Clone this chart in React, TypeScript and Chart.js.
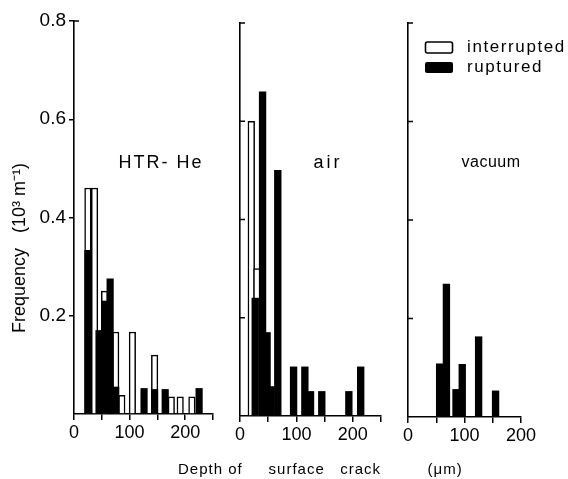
import React, { useEffect, useRef } from 'react';
import { Chart, registerables } from 'chart.js';

Chart.register(...registerables);

// ---------- data (depth of surface crack in µm, frequency in 10^3 m^-1) ----------
const htrInterruptedDepth = [25, 37, 55, 75, 86, 105, 145, 175, 191, 212];
const htrInterruptedFreq = [0.46, 0.46, 0.25, 0.167, 0.038, 0.167, 0.12, 0.035, 0.035, 0.035];
const htrRupturedDepth = [25, 45, 55, 65, 75, 126, 145, 164, 225];
const htrRupturedFreq = [0.333, 0.17, 0.23, 0.275, 0.055, 0.052, 0.05, 0.05, 0.052];

const airInterruptedDepth = [20, 30];
const airInterruptedFreq = [0.6, 0.3];
const airRupturedDepth = [27, 40, 48, 55, 67, 95, 115, 125, 145, 193, 214];
const airRupturedFreq = [0.24, 0.66, 0.17, 0.06, 0.5, 0.1, 0.1, 0.05, 0.05, 0.05, 0.1];

const vacInterruptedDepth: number[] = [];
const vacInterruptedFreq: number[] = [];
const vacRupturedDepth = [56, 68, 85, 96, 125, 155];
const vacRupturedFreq = [0.108, 0.27, 0.056, 0.107, 0.163, 0.053];

const yTickValues = [0, 0.2, 0.4, 0.6, 0.8];
const xTickStep = 50;
const seriesNames = ['interrupted', 'ruptured'];
const panelNames = ['HTR- He', 'air', 'vacuum'];
const xTitle = 'Depth of     surface   crack         (\u03bcm)';
const yTitle = 'Frequency   (10\u00b3 m\u207b\u00b9)';

// ---------- styling ----------
const W = 568;
const H = 479;
const FONT = "'Liberation Sans', Arial, sans-serif";

type Txt = {
  text: string;
  x: number;
  y: number;
  size: number;
  spacing?: number;
  rotate?: boolean;
  align?: CanvasTextAlign;
};

function makeTextPlugin(id: string, texts: Txt[], legend: boolean) {
  return {
    id,
    afterDraw(chart: any) {
      const ctx = chart.ctx as CanvasRenderingContext2D;
      ctx.save();
      ctx.fillStyle = '#000';
      ctx.textBaseline = 'middle';
      for (const t of texts) {
        ctx.save();
        ctx.font = `${t.size}px ${FONT}`;
        (ctx as any).letterSpacing = `${t.spacing ?? 0}px`;
        ctx.textAlign = t.align ?? 'center';
        if (t.rotate) {
          ctx.translate(t.x, t.y);
          ctx.rotate(-Math.PI / 2);
          ctx.fillText(t.text, 0, 0);
        } else {
          ctx.fillText(t.text, t.x, t.y);
        }
        ctx.restore();
      }
      if (legend) {
        ctx.lineWidth = 1.6;
        ctx.strokeStyle = '#000';
        ctx.fillStyle = '#fff';
        ctx.beginPath();
        (ctx as any).roundRect(425.5, 42, 27, 11, 2);
        ctx.fill();
        ctx.stroke();
        ctx.fillStyle = '#000';
        ctx.beginPath();
        (ctx as any).roundRect(425, 62, 28, 11, 2);
        ctx.fill();
        ctx.font = `17px ${FONT}`;
        (ctx as any).letterSpacing = '1.6px';
        ctx.textAlign = 'left';
        ctx.fillText(seriesNames[0], 467, 47);
        ctx.fillText(seriesNames[1], 467, 67);
      }
      ctx.restore();
    },
  };
}

const innerTicksPlugin = (onlyTop: boolean) => ({
  id: 'innerTicks',
  afterDraw(chart: any) {
    const ctx = chart.ctx as CanvasRenderingContext2D;
    const y = chart.scales.y;
    const left = chart.chartArea.left;
    ctx.save();
    ctx.strokeStyle = '#000';
    ctx.lineWidth = 1.5;
    for (const t of y.ticks) {
      if (t.value <= 0) continue;
      if (onlyTop && t.value < 0.79) continue;
      const py = y.getPixelForValue(t.value);
      ctx.beginPath();
      ctx.moveTo(left, py);
      ctx.lineTo(left + 5, py);
      ctx.stroke();
    }
    ctx.restore();
  },
});

type Panel = {
  xMax: number;
  pad: { left: number; right: number; top: number; bottom: number };
  yWidth: number;
  yLabels: boolean;
  barThickness: number;
  intDepth: number[];
  intFreq: number[];
  rupDepth: number[];
  rupFreq: number[];
  texts: Txt[];
  legend: boolean;
};

const panels: Panel[] = [
  {
    xMax: 250,
    pad: { left: 0, right: 355, top: 21, bottom: 35 },
    yWidth: 74,
    yLabels: true,
    barThickness: 6.5,
    intDepth: htrInterruptedDepth,
    intFreq: htrInterruptedFreq,
    rupDepth: htrRupturedDepth,
    rupFreq: htrRupturedFreq,
    texts: [
      { text: panelNames[0], x: 161, y: 163, size: 18, spacing: 2 },
      { text: yTitle, x: 20, y: 333, size: 18, rotate: true, align: 'left' },
    ],
    legend: false,
  },
  {
    xMax: 250,
    pad: { left: 230, right: 187, top: 23, bottom: 33 },
    yWidth: 10,
    yLabels: false,
    barThickness: 6.7,
    intDepth: airInterruptedDepth,
    intFreq: airInterruptedFreq,
    rupDepth: airRupturedDepth,
    rupFreq: airRupturedFreq,
    texts: [
      { text: panelNames[1], x: 328, y: 163, size: 18, spacing: 3 },
      { text: xTitle, x: 178, y: 470, size: 15, spacing: 1, align: 'left' },
    ],
    legend: false,
  },
  {
    xMax: 200,
    pad: { left: 398, right: 47, top: 23, bottom: 32 },
    yWidth: 10,
    yLabels: false,
    barThickness: 6.7,
    intDepth: vacInterruptedDepth,
    intFreq: vacInterruptedFreq,
    rupDepth: vacRupturedDepth,
    rupFreq: vacRupturedFreq,
    texts: [{ text: panelNames[2], x: 491, y: 163, size: 16, spacing: 0.5 }],
    legend: true,
  },
];

function buildConfig(p: Panel, idx: number): any {
  const toPts = (xs: number[], ys: number[]) => xs.map((x, i) => ({ x, y: ys[i] }));
  return {
    type: 'bar',
    data: {
      datasets: [
        {
          label: seriesNames[1],
          data: toPts(p.rupDepth, p.rupFreq),
          backgroundColor: '#000',
          borderWidth: 0,
          barThickness: p.barThickness,
          grouped: false,
          order: 0,
        },
        {
          label: seriesNames[0],
          data: toPts(p.intDepth, p.intFreq),
          backgroundColor: '#fff',
          borderColor: '#000',
          borderWidth: 1.5,
          barThickness: p.barThickness,
          grouped: false,
          order: 1,
        },
      ],
    },
    options: {
      responsive: false,
      maintainAspectRatio: false,
      animation: false,
      events: [],
      layout: { padding: p.pad },
      plugins: { legend: { display: false }, tooltip: { enabled: false }, title: { display: false } },
      scales: {
        x: {
          type: 'linear',
          min: 0,
          max: p.xMax,
          offset: false,
          afterFit: (s: any) => {
            s.height = 30;
          },
          grid: {
            offset: false,
            drawOnChartArea: false,
            drawTicks: true,
            tickLength: 6,
            color: '#000',
            lineWidth: 1.5,
          },
          border: { display: true, color: '#000', width: 1.6 },
          ticks: {
            stepSize: xTickStep,
            autoSkip: false,
            maxRotation: 0,
            padding: 2,
            color: '#000',
            font: { family: FONT, size: 18 },
            callback: (v: number) => (v % 100 === 0 ? String(v) : ''),
          },
        },
        y: {
          type: 'linear',
          min: yTickValues[0],
          max: yTickValues[yTickValues.length - 1],
          afterFit: (s: any) => {
            s.width = p.yWidth;
          },
          afterBuildTicks: (s: any) => {
            s.ticks = yTickValues.map((v) => ({ value: v }));
          },
          grid: {
            drawOnChartArea: false,
            drawTicks: p.yLabels,
            tickLength: 5,
            color: (c: any) => (c.tick && c.tick.value === 0 ? 'rgba(0,0,0,0)' : '#000'),
            lineWidth: 1.5,
          },
          border: { display: true, color: '#000', width: 1.6 },
          ticks: {
            display: p.yLabels,
            padding: 3,
            color: '#000',
            font: { family: FONT, size: 19 },
            callback: (v: number) => (v === 0 ? '' : v.toFixed(1)),
          },
        },
      },
    },
    plugins: [makeTextPlugin('texts' + idx, p.texts, p.legend), innerTicksPlugin(idx === 0)],
  };
}

export default function App() {
  const r0 = useRef<HTMLCanvasElement>(null);
  const r1 = useRef<HTMLCanvasElement>(null);
  const r2 = useRef<HTMLCanvasElement>(null);

  useEffect(() => {
    const refs = [r0, r1, r2];
    const charts = panels.map((p, i) => new Chart(refs[i].current as HTMLCanvasElement, buildConfig(p, i)));
    return () => charts.forEach((c) => c.destroy());
  }, []);

  const cs: React.CSSProperties = { position: 'absolute', left: 0, top: 0, width: W, height: H };
  return (
    <div style={{ position: 'absolute', left: 0, top: 0, width: W, height: H, background: '#fff' }}>
      <canvas ref={r0} width={W} height={H} style={cs} />
      <canvas ref={r1} width={W} height={H} style={cs} />
      <canvas ref={r2} width={W} height={H} style={cs} />
    </div>
  );
}
